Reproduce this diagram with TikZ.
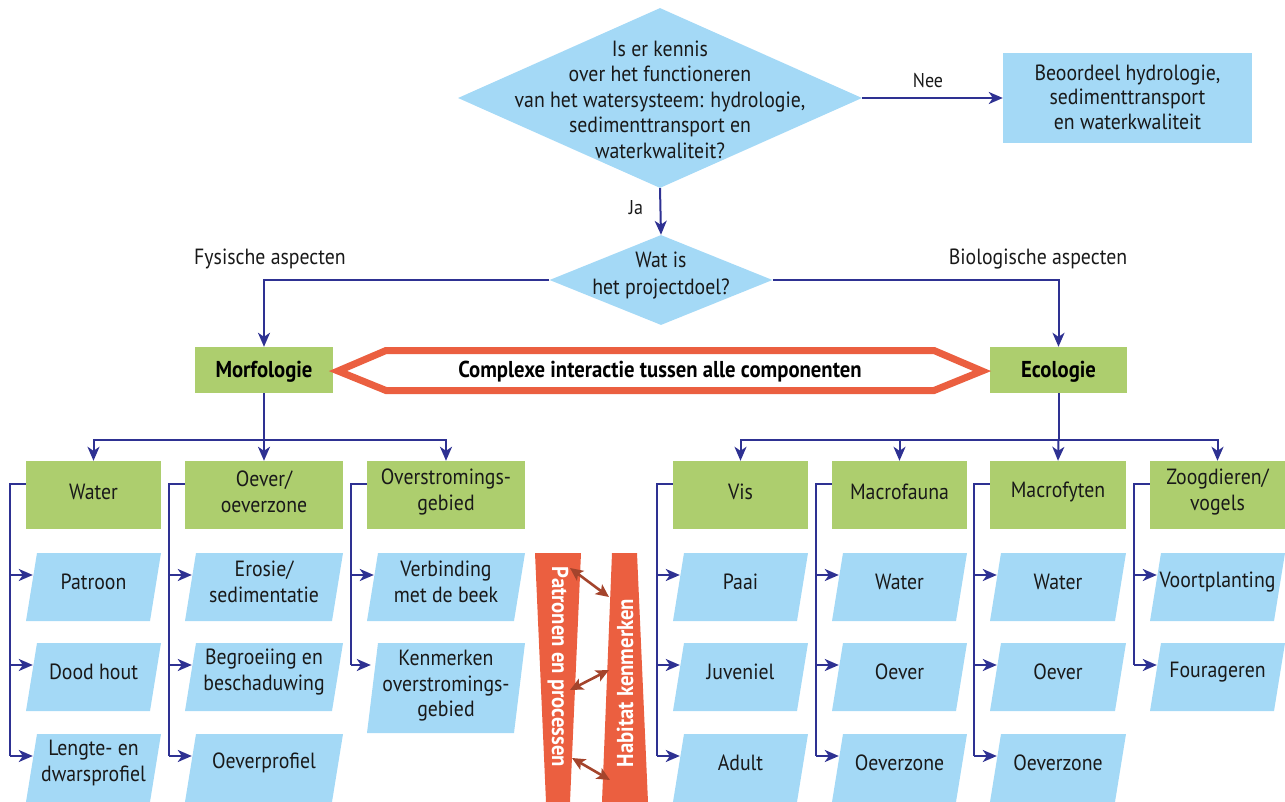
\documentclass[tikz,border=0pt]{standalone}
\usepackage{fontspec}
\setmainfont{PT Sans}[FakeStretch=0.9]
\usetikzlibrary{arrows.meta,shapes.geometric,calc}
\definecolor{lblue}{HTML}{A4D9F6}
\definecolor{lgreen}{HTML}{ADCE6E}
\definecolor{navy}{HTML}{2E3192}
\definecolor{redbar}{HTML}{EB5F40}
\definecolor{brownarr}{HTML}{A4442C}
\newcommand\tgt[1]{\coordinate (a#1) at ($(#1.west)+(7,-12)$);}
\newcommand\spine[2]{\coordinate (s#1) at ($(#1.west)+(-16,-11)$);
  \draw[conn] ($(#1.west)+(0,-11)$) -- (s#1) -- (s#1 |- a#2);}
\newcommand\feed[2]{\draw[arr] (s#1 |- a#2) -- (a#2);}
% green box: width, name, x, y, text
\newcommand\gb[5]{\node[gbox=#1] (#2) at (#3,#4) {};
  \node[txt] (#2t) at ($(#2)+(0,-3)$) {#5};}
% parallelogram: width, name, x, y, text
\newcommand\pb[5]{\node[pbox=#1] (#2) at (#3,#4) {};
  \node[txt] (#2t) at ($(#2)+(0,-5)$) {#5};}
\begin{document}
\begin{tikzpicture}[x=1pt,y=-1pt,
  txt/.style={font=\fontsize{22}{25.5}\selectfont, align=center, text=black!90},
  btxt/.style={font=\fontsize{23}{26}\selectfont\bfseries, align=center},
  lbl/.style={font=\fontsize{22}{25}\selectfont, text=black!90},
  slbl/.style={font=\fontsize{20}{24}\selectfont, text=black!90},
  conn/.style={draw=navy, line width=2pt},
  arr/.style={conn, -{Stealth[length=14pt,width=12pt,inset=4pt]}},
  darr/.style={draw=brownarr, line width=2.6pt, {Stealth[length=13pt,width=12pt,inset=3pt]}-{Stealth[length=13pt,width=12pt,inset=3pt]}},
  gbox/.style={fill=lgreen, minimum width=#1, minimum height=68, inner sep=0},
  pbox/.style={minimum width=#1, minimum height=68, inner sep=0,
    path picture={\fill[lblue] (path picture bounding box.south west) -- ([xshift=-11pt]path picture bounding box.south east) -- (path picture bounding box.north east) -- ([xshift=11pt]path picture bounding box.north west) -- cycle;}},
  dia/.style={diamond, fill=lblue, inner sep=0}
]
\useasboundingbox (0,0) rectangle (1285,802);

% top decision
\node[dia, minimum width=404, minimum height=180] (d1) at (660,98) {};
\node[txt] (d1t) at (660,99.5) {Is er kennis\\over het functioneren\\van het watersysteem: hydrologie,\\sedimenttransport en\\waterkwaliteit?};
\node[fill=lblue, minimum width=249, minimum height=90, inner sep=0] (bo) at (1127.5,98) {};
\node[txt, font=\fontsize{22}{24.5}\selectfont] (bot) at (1127.5,97) {Beoordeel hydrologie,\\sedimenttransport\\ en waterkwaliteit};
\draw[arr] (d1.east) -- (bo.west);
\node[slbl] (nee) at (928,81) {Nee};

\node[dia, minimum width=223, minimum height=90] (d2) at (661,280) {};
\node[txt, font=\fontsize{22}{27}\selectfont] (d2t) at (661,276) {Wat is\\het projectdoel?};
\draw[arr] (d1.south) -- (d2.north);
\node[slbl] (ja) at (636,208) {Ja};

\node[lbl] (fys) at (270,259) {Fysische aspecten};
\node[lbl] (bio) at (1038,259) {Biologische aspecten};

\node[fill=lgreen, minimum width=138, minimum height=46, inner sep=0] (morf) at (264,370) {};
\node[btxt] (morft) at (264,372) {Morfologie};
\node[fill=lgreen, minimum width=137, minimum height=46, inner sep=0] (eco) at (1058.5,370) {};
\node[btxt] (ecot) at (1058.5,372) {Ecologie};
\draw[arr] (d2.west) -| (morf.north);
\draw[arr] (d2.east) -| (eco.north);

% interaction banner
\coordinate (h1) at (338,371);
\coordinate (h2) at (386,350.5);
\coordinate (h3) at (934,350.5);
\coordinate (h4) at (982,371);
\coordinate (h5) at (934,390.5);
\coordinate (h6) at (386,390.5);
\draw[redbar, line width=7pt, fill=white, line join=miter] (h1) -- (h2) -- (h3) -- (h4) -- (h5) -- (h6) -- cycle;
\node[btxt] (cx) at (660,372) {Complexe interactie tussen alle componenten};

% group boxes
\gb{135}{gW}{93.5}{495}{Water}
\gb{158}{gO}{264}{495}{Oever/\\oeverzone}
\gb{158}{gF}{446}{495}{Overstromings-\\gebied}
\gb{135}{gV}{740.5}{495}{Vis}
\gb{135}{gM}{899.5}{495}{Macrofauna}
\gb{136}{gY}{1058}{495}{Macrofyten}
\gb{135}{gZ}{1217.5}{495}{Zoogdieren/\\vogels}

\coordinate (mj) at (264,440);
\draw[conn] (morf.south) -- (mj);
\draw[arr] (mj) -| (gW.north);
\draw[arr] (mj) -- (gO.north);
\draw[arr] (mj) -| (gF.north);
\coordinate (ej) at (1058.5,440);
\draw[conn] (eco.south) -- (ej);
\draw[arr] (ej) -| (gV.north);
\draw[arr] (ej) -| (gM.north);
\draw[arr] (ej) -- (gY.north);
\draw[arr] (ej) -| (gZ.north);

% parallelograms
\pb{135}{pW1}{93.5}{587}{Patroon}
\pb{135}{pW2}{93.5}{677}{Dood hout}
\pb{135}{pW3}{93.5}{768}{Lengte- en\\dwarsprofiel}
\pb{158}{pO1}{264}{587}{Erosie/\\sedimentatie}
\pb{158}{pO2}{264}{677}{Begroeiing en\\beschaduwing}
\pb{158}{pO3}{264}{768}{Oeverprofiel}
\pb{158}{pF1}{446}{587}{Verbinding\\met de beek}
\node[pbox=158, minimum height=90] (pF2) at (446,688) {};
\node[txt] (pF2t) at (446,686) {Kenmerken\\overstromings-\\gebied};
\pb{135}{pV1}{740.5}{587}{Paai}
\pb{135}{pV2}{740.5}{677}{Juveniel}
\pb{135}{pV3}{740.5}{768}{Adult}
\pb{135}{pM1}{899.5}{587}{Water}
\pb{135}{pM2}{899.5}{677}{Oever}
\pb{135}{pM3}{899.5}{768}{Oeverzone}
\pb{136}{pY1}{1058}{587}{Water}
\pb{136}{pY2}{1058}{677}{Oever}
\pb{136}{pY3}{1058}{768}{Oeverzone}
\pb{135}{pZ1}{1217.5}{587}{Voortplanting}
\pb{135}{pZ2}{1217.5}{677}{Fourageren}

\tgt{pW1}\tgt{pW2}\tgt{pW3}
\tgt{pO1}\tgt{pO2}\tgt{pO3}
\tgt{pF1}
\coordinate (apF2) at ($(pF2.west)+(4,-23)$);
\tgt{pV1}\tgt{pV2}\tgt{pV3}
\tgt{pM1}\tgt{pM2}\tgt{pM3}
\tgt{pY1}\tgt{pY2}\tgt{pY3}
\tgt{pZ1}\tgt{pZ2}

\spine{gW}{pW3}\feed{gW}{pW1}\feed{gW}{pW2}\feed{gW}{pW3}
\spine{gO}{pO3}\feed{gO}{pO1}\feed{gO}{pO2}\feed{gO}{pO3}
\spine{gF}{pF2}\feed{gF}{pF1}\feed{gF}{pF2}
\spine{gV}{pV3}\feed{gV}{pV1}\feed{gV}{pV2}\feed{gV}{pV3}
\spine{gM}{pM3}\feed{gM}{pM1}\feed{gM}{pM2}\feed{gM}{pM3}
\spine{gY}{pY3}\feed{gY}{pY1}\feed{gY}{pY2}\feed{gY}{pY3}
\spine{gZ}{pZ2}\feed{gZ}{pZ1}\feed{gZ}{pZ2}

% red bars
\fill[redbar] (535,553) -- (581,553) -- (570,802) -- (546,802) -- cycle;
\fill[redbar] (612,553) -- (637,553) -- (648,802) -- (602,802) -- cycle;
\node[btxt, rotate=-90, text=white] (tP) at (558,667) {Patronen en processen};
\node[btxt, rotate=90, text=white] (tH) at (625,683) {Habitat kenmerken};

\coordinate (b1a) at (570,568); \coordinate (b1b) at (609,597);
\coordinate (b2a) at (570,690); \coordinate (b2b) at (609,670);
\coordinate (b3a) at (572,758); \coordinate (b3b) at (610,780);
\draw[darr] (b1a) -- (b1b);
\draw[darr] (b2a) -- (b2b);
\draw[darr] (b3a) -- (b3b);
\end{tikzpicture}
\end{document}
